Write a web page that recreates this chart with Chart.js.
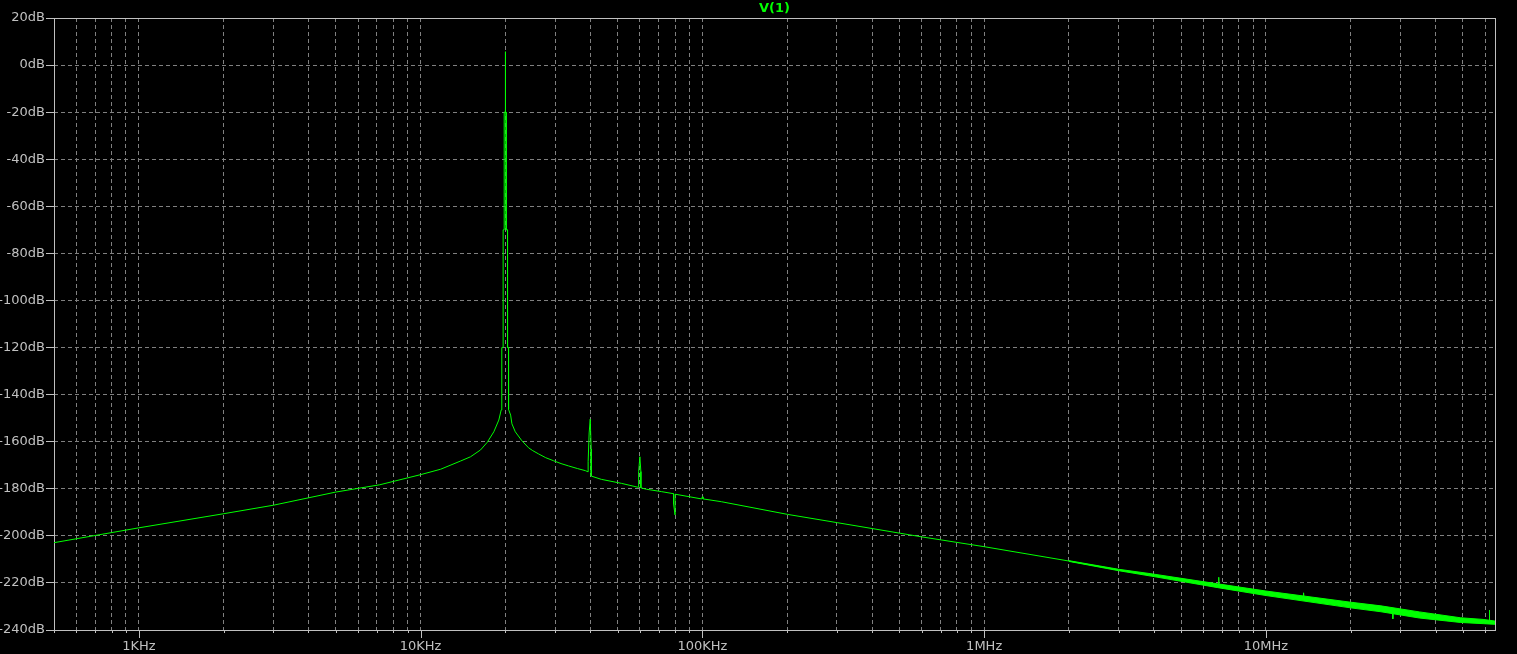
<!DOCTYPE html>
<html>
<head>
<meta charset="utf-8">
<script src="https://cdn.jsdelivr.net/npm/chart.js@4"></script>
<style>
  html, body { margin: 0; padding: 0; background: #000; }
  #wrap { width: 1517px; height: 654px; position: relative; }
</style>
</head>
<body>
<div id="wrap"><canvas id="fft"></canvas></div>
<script>
// FFT trace V(1), frequency in Hz, level in dB
const traceHz = [
  500, 1000, 2000, 3000, 5000, 7165, 10000, 11780, 13870, 15040, 16320, 17230, 18190, 18950, 19320,
  19410, 19420, 19620, 19630, 19790, 19800, 19990, 20000, 20010, 20110, 20120, 20340, 20350, 20510, 20520,
  20870, 21090, 21680, 22880, 24170, 25000, 26230, 27800, 29640, 31500, 33510, 36000, 38420,
  39300, 39320, 39640, 40000, 40300, 40310,
  43800, 51600, 59300, 59400, 59410, 60000, 60490, 60500, 63300, 71500,
  79000, 79010, 80000, 80010, 99200, 99500, 100000, 100500, 116800,
  201000, 301000, 598000, 1000000, 2000000, 3010000, 3910000, 5820000,
  6780000, 6800000, 6820000, 10000000, 13550000, 13600000, 13650000, 20000000, 20350000, 20400000, 20450000,
  25600000, 28100000, 28200000, 28300000, 34500000, 49100000, 59300000, 62000000, 62100000, 62200000, 65000000
];
const traceDb = [
  -202.9, -196.6, -190.6, -187.0, -181.4, -178.3, -174.0, -171.7, -168.2, -166.4, -163.5, -160.3, -155.8, -150.8, -146.5,
  -145.7, -120, -120, -70, -70, -20, -20, 5.7, -20, -20, -70, -70, -120, -120, -146.3,
  -148.7, -152.4, -155.8, -159.6, -162.6, -163.8, -165.2, -166.8, -168.1, -169.3, -170.3, -171.4, -172.3,
  -172.8, -168.5, -156.3, -150.4, -163.1, -174.6,
  -176.0, -177.7, -179.4, -179.4, -172.7, -166.4, -172.7, -179.6, -180.2, -181.2,
  -182.1, -186.4, -191.1, -182.3, -184.3, -184.2, -183.4, -184.3, -185.5,
  -190.9, -194.4, -200.4, -204.6, -210.7, -214.5, -216.6, -220.2,
  -221.3, -217.6, -221.4, -224.4, -226.8, -224.2, -226.9, -229.4, -229.6, -228.1, -229.7,
  -231.0, -232.2, -235.3, -232.3, -233.6, -235.8, -236.4, -236.5, -231.5, -236.5, -236.9
];

// thick noise band at the high-frequency end (upper / lower edge)
const bandHz    = [2.0e6, 3.0e6, 3.91e6, 6.75e6, 1.0e7, 2.0e7, 2.56e7, 3.5e7, 4.9e7, 5.9e7, 6.5e7];
const bandUpper = [-210.55, -214.2, -216.1, -220.4, -223.45, -228.2, -229.75, -232.3, -234.8, -235.5, -236.2];
const bandLower = [-210.85, -214.8, -217.1, -222.0, -225.35, -230.6, -232.25, -234.9, -236.8, -237.3, -237.6];

// axes
const freqMin = 500;
const freqMax = 65e6;
const decadeStarts = [100, 1e3, 1e4, 1e5, 1e6, 1e7];
const decadeMultiples = [1, 2, 3, 4, 5, 6, 7, 8, 9];
const majorTickValues = [1e3, 1e4, 1e5, 1e6, 1e7];
const majorTickLabels = ["1KHz", "10KHz", "100KHz", "1MHz", "10MHz"];
const dbMin = -240, dbMax = 20, dbStep = 20;

const GREEN = "#00ff00";
const FRAME = "#c0c0c0";
const GRID = "#808080";
const FONT = { family: "'DejaVu Sans', sans-serif", size: 13 };

const pts = (xs, ys) => xs.map((x, i) => ({ x, y: ys[i] }));

const xGridValues = [];
for (const d of decadeStarts) {
  for (const m of decadeMultiples) {
    const v = d * m;
    if (v >= freqMin && v <= freqMax) xGridValues.push(v);
  }
}

// frame around the plot + LTspice style x tick marks (long at decades)
const framePlugin = {
  id: "frame",
  beforeDatasetsDraw(chart) {
    const { ctx, chartArea: a, scales } = chart;
    ctx.save();
    ctx.strokeStyle = FRAME;
    ctx.lineWidth = 1;
    ctx.setLineDash([]);
    ctx.strokeRect(Math.round(a.left) + 0.5, Math.round(a.top) + 0.5,
      Math.round(a.right - a.left), Math.round(a.bottom - a.top));
    const xs = scales.x;
    ctx.beginPath();
    for (const v of xGridValues) {
      const px = Math.round(xs.getPixelForValue(v)) + 0.5;
      const len = majorTickValues.includes(v) ? 8 : 3;
      ctx.moveTo(px, Math.round(a.bottom));
      ctx.lineTo(px, Math.round(a.bottom) + len);
    }
    ctx.stroke();
    ctx.restore();
  }
};

new Chart(document.getElementById("fft"), {
  type: "line",
  data: {
    datasets: [
      { label: "band top", data: pts(bandHz, bandUpper), borderColor: GREEN, borderWidth: 1, pointRadius: 0, fill: false, tension: 0 },
      { label: "band bottom", data: pts(bandHz, bandLower), borderColor: GREEN, borderWidth: 1, pointRadius: 0, fill: "-1", backgroundColor: GREEN, tension: 0 },
      { label: "V(1)", data: pts(traceHz, traceDb), borderColor: GREEN, borderWidth: 1, pointRadius: 0, fill: false, tension: 0 }
    ]
  },
  options: {
    responsive: true,
    maintainAspectRatio: false,
    animation: false,
    events: [],
    layout: { padding: { left: 0, right: 22, top: 0, bottom: 0 } },
    plugins: {
      legend: { display: false },
      tooltip: { enabled: false },
      title: {
        display: true, fullSize: false, text: "V(1)", color: GREEN,
        font: { ...FONT, lineHeight: 1.2 }, padding: { top: 1.2, bottom: 1.2 }
      }
    },
    scales: {
      x: {
        type: "logarithmic",
        min: freqMin,
        max: freqMax,
        afterBuildTicks: (scale) => { scale.ticks = xGridValues.map((value) => ({ value })); },
        afterFit: (scale) => { scale.height = 24; },
        grid: { color: GRID, lineWidth: 1, drawTicks: false },
        border: { display: false, dash: [4, 3] },
        ticks: {
          color: FRAME, font: FONT, padding: 9, autoSkip: false, maxRotation: 0, minRotation: 0,
          callback: (value) => {
            const i = majorTickValues.indexOf(value);
            return i >= 0 ? majorTickLabels[i] : "";
          }
        }
      },
      y: {
        min: dbMin,
        max: dbMax,
        afterFit: (scale) => { scale.width = 54; },
        grid: { color: GRID, lineWidth: 1, drawTicks: true, tickLength: 8, tickColor: FRAME, tickBorderDash: [] },
        border: { display: false, dash: [4, 3] },
        ticks: { stepSize: dbStep, color: FRAME, font: FONT, padding: 1, callback: (value) => `${value}dB` }
      }
    }
  },
  plugins: [framePlugin]
});
</script>
</body>
</html>
